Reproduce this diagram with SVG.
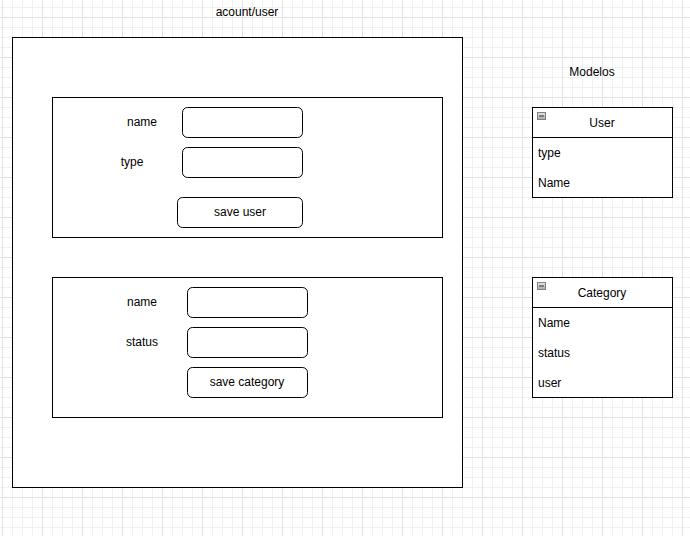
<svg xmlns="http://www.w3.org/2000/svg" width="690" height="536" viewBox="0 0 690 536">
<defs>
<pattern id="minor" x="2" y="7" width="10" height="10" patternUnits="userSpaceOnUse">
<path d="M0.5 0V10M0 0.5H10" stroke="#f0f0f0" stroke-width="1" fill="none"/>
</pattern>
<pattern id="major" x="2" y="17" width="40" height="40" patternUnits="userSpaceOnUse">
<path d="M0.5 0V40M0 0.5H40" stroke="#e2e2e2" stroke-width="1" fill="none"/>
</pattern>
<linearGradient id="ig" x1="0" y1="0" x2="0" y2="1">
<stop offset="0" stop-color="#e8e8e8"/>
<stop offset="1" stop-color="#a8a8a8"/>
</linearGradient>
</defs>
<style>
text{font-family:"Liberation Sans",Arial,sans-serif;font-size:12px;fill:#000;dominant-baseline:central}
.c{text-anchor:middle}
.box{fill:#fff;stroke:#000;stroke-width:1}
.fld{fill:#fff;stroke:#000;stroke-width:1}
.ln{stroke:#000;stroke-width:1;fill:none}
</style>
<rect width="690" height="536" fill="#fff"/>
<rect width="690" height="536" fill="url(#minor)"/>
<rect width="690" height="536" fill="url(#major)"/>
<g id="connectors"></g>
<g id="title"><text class="c" x="247" y="12">acount/user</text></g>
<g id="account">
<rect class="box" x="12.5" y="37.5" width="450" height="450"/>
</g>
<g id="userForm">
<rect class="box" x="52.5" y="97.5" width="390" height="140"/>
<text class="c" x="142" y="122">name</text>
<rect class="fld" x="182.5" y="107.5" width="120" height="30" rx="5"/>
<text class="c" x="132" y="162">type</text>
<rect class="fld" x="182.5" y="147.5" width="120" height="30" rx="5"/>
<rect class="fld" x="177.5" y="197.5" width="125" height="30" rx="5"/>
<text class="c" x="240" y="212">save user</text>
</g>
<g id="categoryForm">
<rect class="box" x="52.5" y="277.5" width="390" height="140"/>
<text class="c" x="142" y="302">name</text>
<rect class="fld" x="187.5" y="287.5" width="120" height="30" rx="5"/>
<text class="c" x="142" y="342">status</text>
<rect class="fld" x="187.5" y="327.5" width="120" height="30" rx="5"/>
<rect class="fld" x="187.5" y="367.5" width="120" height="30" rx="5"/>
<text class="c" x="247" y="382">save category</text>
</g>
<g id="modelos"><text class="c" x="592" y="72">Modelos</text></g>
<g id="userModel">
<rect class="box" x="532.5" y="107.5" width="140" height="90"/>
<path class="ln" d="M532.5 137.5H672.5"/>
<rect x="537.5" y="112.5" width="8" height="7" fill="url(#ig)" stroke="#808080"/>
<path d="M539 116H544" stroke="#333" stroke-width="1"/>
<text class="c" x="602" y="123">User</text>
<text x="538" y="153">type</text>
<text x="538" y="183">Name</text>
</g>
<g id="categoryModel">
<rect class="box" x="532.5" y="277.5" width="140" height="120"/>
<path class="ln" d="M532.5 307.5H672.5"/>
<rect x="537.5" y="282.5" width="8" height="7" fill="url(#ig)" stroke="#808080"/>
<path d="M539 286H544" stroke="#333" stroke-width="1"/>
<text class="c" x="602" y="293">Category</text>
<text x="538" y="323">Name</text>
<text x="538" y="353">status</text>
<text x="538" y="383">user</text>
</g>
</svg>
